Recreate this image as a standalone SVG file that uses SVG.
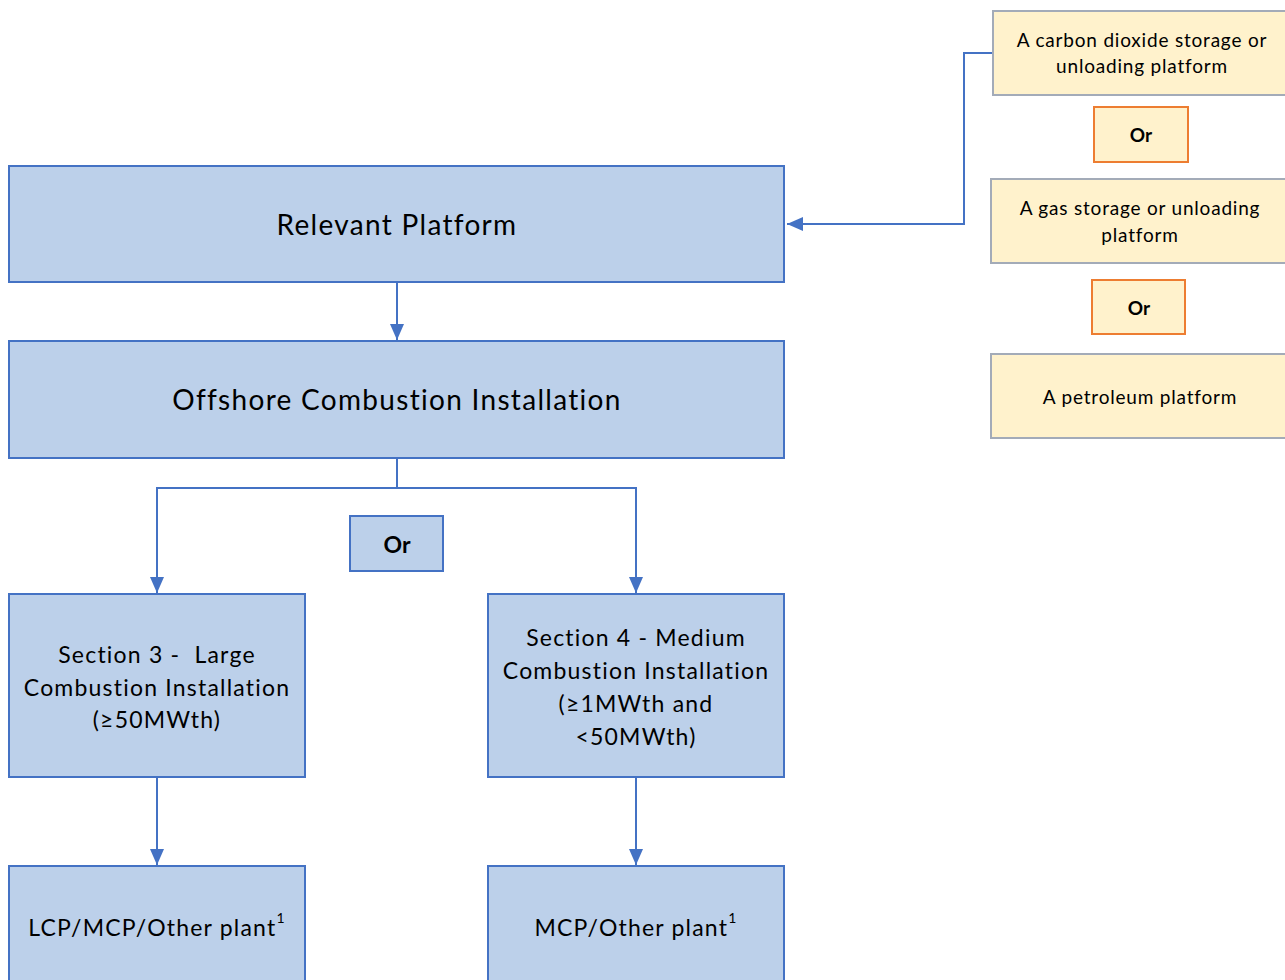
<svg xmlns="http://www.w3.org/2000/svg" width="1285" height="980" viewBox="0 0 1285 980">
  <style>
    text { font-family: Lato, "Open Sans", "Liberation Sans", sans-serif; fill: #000; text-anchor: middle; dominant-baseline: central; white-space: pre; }
    .blue { fill: #BCD0EA; stroke: #4472C4; stroke-width: 2; }
    .yellow { fill: #FFF2CC; stroke: #A3ABB8; stroke-width: 2; }
    .or { fill: #FFF2CC; stroke: #ED7D31; stroke-width: 2; }
    .big { font-size: 28px; letter-spacing: 1.3px; }
    .mid { font-size: 23px; letter-spacing: 1.2px; }
    .small { font-size: 19px; letter-spacing: 0.8px; }
    .bold { font-weight: bold; letter-spacing: 0; }
    .link { fill: none; stroke: #4472C4; stroke-width: 2; }
  </style>
  <defs>
    <marker id="head" viewBox="0 0 16 14" refX="16" refY="7" markerWidth="16" markerHeight="14" markerUnits="userSpaceOnUse" orient="auto">
      <path d="M0,0 L16,7 L0,14 z" fill="#4472C4"/>
    </marker>
  </defs>

  <!-- connectors -->
  <g id="connectors">
    <path class="link" d="M993,53 H964 V224 H787" marker-end="url(#head)"/>
    <path class="link" d="M397,283 V340" marker-end="url(#head)"/>
    <path class="link" d="M397,459 V488 H157 V593" marker-end="url(#head)"/>
    <path class="link" d="M397,488 H636 V593" marker-end="url(#head)"/>
    <path class="link" d="M157,778 V865" marker-end="url(#head)"/>
    <path class="link" d="M636,778 V865" marker-end="url(#head)"/>
  </g>

  <g id="relevant-platform">
    <rect class="blue" x="9" y="166" width="775" height="116"/>
    <text class="big" x="397" y="224">Relevant Platform</text>
  </g>

  <g id="offshore-combustion">
    <rect class="blue" x="9" y="341" width="775" height="117"/>
    <text class="big" x="397" y="399">Offshore Combustion Installation</text>
  </g>

  <g id="or-blue">
    <rect class="blue" x="350" y="516" width="93" height="55"/>
    <text class="mid bold" x="397" y="544">Or</text>
  </g>

  <g id="section-3">
    <rect class="blue" x="9" y="594" width="296" height="183"/>
    <text class="mid" x="157" y="654">Section 3 -  Large</text>
    <text class="mid" x="157" y="687">Combustion Installation</text>
    <text class="mid" x="157" y="719">(≥50MWth)</text>
  </g>

  <g id="section-4">
    <rect class="blue" x="488" y="594" width="296" height="183"/>
    <text class="mid" x="636" y="637">Section 4 - Medium</text>
    <text class="mid" x="636" y="670">Combustion Installation</text>
    <text class="mid" x="636" y="703">(≥1MWth and</text>
    <text class="mid" x="636" y="736">&lt;50MWth)</text>
  </g>

  <g id="lcp-plant">
    <rect class="blue" x="9" y="866" width="296" height="130"/>
    <text class="mid" x="157" y="927">LCP/MCP/Other plant<tspan font-size="14" dy="-10">1</tspan></text>
  </g>

  <g id="mcp-plant">
    <rect class="blue" x="488" y="866" width="296" height="130"/>
    <text class="mid" x="636" y="927">MCP/Other plant<tspan font-size="14" dy="-10">1</tspan></text>
  </g>

  <g id="co2-platform">
    <rect class="yellow" x="993" y="11" width="300" height="84"/>
    <text class="small" x="1142" y="39">A carbon dioxide storage or</text>
    <text class="small" x="1142" y="65">unloading platform</text>
  </g>

  <g id="or-1">
    <rect class="or" x="1094" y="107" width="94" height="55"/>
    <text class="small bold" x="1141" y="134">Or</text>
  </g>

  <g id="gas-platform">
    <rect class="yellow" x="991" y="179" width="300" height="84"/>
    <text class="small" x="1140" y="207">A gas storage or unloading</text>
    <text class="small" x="1140" y="234">platform</text>
  </g>

  <g id="or-2">
    <rect class="or" x="1092" y="280" width="93" height="54"/>
    <text class="small bold" x="1139" y="307">Or</text>
  </g>

  <g id="petroleum-platform">
    <rect class="yellow" x="991" y="354" width="300" height="84"/>
    <text class="small" x="1140" y="396">A petroleum platform</text>
  </g>
</svg>
